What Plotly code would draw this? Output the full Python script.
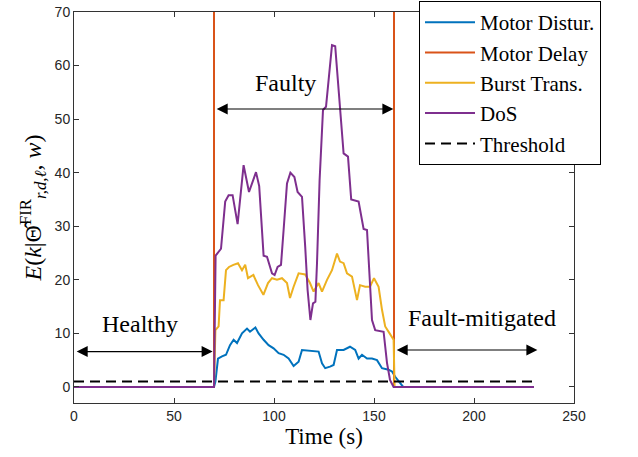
import plotly.graph_objects as go

# Detection statistic E(k | Theta_hat) for each attack scenario, sampled in time (s)
dist_t = [0, 70, 70.7, 72, 74, 76, 78, 79.8, 81.5, 84, 86.5, 88, 90.7, 92.3, 94.8, 97.3,
          99.8, 102.3, 104.8, 107.3, 109.8, 112.3, 114, 118, 122.3, 124, 125.6, 128, 129.8,
          131.5, 134.8, 138, 140.6, 142.3, 144, 146.5, 149, 151.5, 154, 157.3, 159, 160.6,
          162.3, 164.6, 230]
dist_v = [0, 0, 1, 5.3, 5.7, 6, 7.8, 8.8, 8.2, 10, 10.9, 10.3, 11.1, 10, 8.8, 7.8,
          7.2, 6.3, 6, 5.3, 3.9, 4.7, 6.9, 6.8, 6.6, 4.4, 3.5, 3.8, 4.1,
          6.9, 6.9, 7.5, 6.9, 5.3, 6, 5.3, 5.3, 5, 3.5, 3.2, 2.9, 1.9,
          1, 0, 0]

DELAY_LEVEL = 500  # statistic saturates far above the axis during the delay attack
delay_t = [0, 70, 70, 160, 160, 230]
delay_v = [0, 0, DELAY_LEVEL, DELAY_LEVEL, 0, 0]

burst_t = [0, 70, 70.7, 72.3, 73, 74.8, 76, 77.5, 79.7, 82, 84, 85.6, 87, 89.7, 92, 94.7,
           97, 99, 101.5, 104, 106.5, 108, 109.8, 112.3, 115.6, 118, 119.8, 122.3, 124,
           126.5, 129, 131.5, 133, 134.8, 136.5, 139, 141.5, 143, 145.6, 148, 150, 152.3,
           154, 155.6, 157.8, 159.8, 160.3, 230]
burst_v = [0, 0, 10.6, 11.3, 16.2, 16.2, 21.8, 22.4, 22.8, 23.1, 21.8, 22.8, 20.3, 20.9, 19, 17.2,
           19.4, 20.3, 20, 20.3, 19.4, 16.6, 18.7, 21.2, 21, 19.4, 17.8, 19.4, 17.8,
           20, 21.8, 24.9, 23.4, 23.1, 21.2, 20.6, 16.2, 19, 18.7, 18.7, 20.3, 18.7,
           14.4, 11.3, 10, 8.8, 0, 0]

dos_t = [0, 70, 70.8, 73.5, 75.6, 77.3, 79.3, 81.8, 84.8, 87.5, 91, 92.6, 94.8, 96.5, 99,
         100.3, 101.8, 103.5, 104.8, 106.5, 108.2, 110.2, 111.8, 114, 115.6, 116.8, 118.2,
         119.5, 120.7, 121.5, 122.8, 124.5, 126, 129, 130.6, 133, 134.8, 137, 138.6, 142.3,
         144.8, 146.5, 149, 150.6, 154.8, 156.5, 158, 159.8, 230]
dos_v = [0, 0, 24.5, 25.8, 34.6, 35.8, 35.8, 30.4, 41.4, 36.4, 40.1, 37.5, 24.5, 24.3, 21.2,
         20.9, 22.4, 22.8, 29.3, 38, 40, 39.2, 36.4, 35.5, 26.2, 18.1, 12.5,
         15.6, 15.9, 23.1, 38.6, 51.7, 52.3, 63.8, 63.6, 51.5, 43.6, 43, 35, 34.6,
         29.5, 29.3, 12.5, 10.6, 10.3, 4.5, 1.3, 0, 0]

thr_t = [0, 230]
thr_v = [1, 1]

x_ticks = [0, 50, 100, 150, 200, 250]
y_ticks = [0, 10, 20, 30, 40, 50, 60, 70]

SERIF = "Liberation Serif"
SANS = "Liberation Sans"

fig = go.Figure()
fig.add_trace(go.Scatter(x=dist_t, y=dist_v, mode="lines", name="Motor Distur.",
                         line=dict(color="#0072BD", width=2)))
fig.add_trace(go.Scatter(x=delay_t, y=delay_v, mode="lines", name="Motor Delay",
                         line=dict(color="#D95319", width=2)))
fig.add_trace(go.Scatter(x=burst_t, y=burst_v, mode="lines", name="Burst Trans.",
                         line=dict(color="#EDB120", width=2)))
fig.add_trace(go.Scatter(x=dos_t, y=dos_v, mode="lines", name="DoS",
                         line=dict(color="#7E2F8E", width=2)))
fig.add_trace(go.Scatter(x=thr_t, y=thr_v, mode="lines", name="Threshold",
                         line=dict(color="black", width=2, dash="10px,6px")))

# Phase markers: double-headed arrows with captions
phases = [
    dict(label="Healthy", x0=0.6, x1=69.3, y=6.6, tx=33, ty=11.7),
    dict(label="Faulty", x0=70.6, x1=159.7, y=51.9, tx=105.6, ty=56.7),
    dict(label="Fault-mitigated", x0=160.6, x1=231.7, y=6.9, tx=204, ty=12.9),
]
for p in phases:
    fig.add_annotation(x=p["x1"], y=p["y"], ax=p["x0"], ay=p["y"], xref="x", yref="y",
                       axref="x", ayref="y", text="", showarrow=True, arrowhead=2,
                       arrowside="end+start", arrowsize=2, arrowwidth=1.1,
                       arrowcolor="black", standoff=0, startstandoff=0)
    fig.add_annotation(x=p["tx"], y=p["ty"], xref="x", yref="y", text=p["label"],
                       showarrow=False, font=dict(family=SERIF, size=24, color="black"))

axis_common = dict(showline=True, linecolor="#333333", linewidth=1, mirror="ticks",
                   ticks="inside", ticklen=5, tickwidth=1, tickcolor="#333333",
                   showgrid=False, zeroline=False,
                   tickfont=dict(family=SANS, size=14, color="#262626"))

fig.update_layout(
    width=638, height=457,
    margin=dict(l=74, r=64, t=12, b=54, autoexpand=False),
    paper_bgcolor="white", plot_bgcolor="white",
    xaxis=dict(range=[0, 250], tickvals=x_ticks,
               title=dict(text="Time (s)", font=dict(family=SERIF, size=23, color="black"),
                          standoff=4),
               **axis_common),
    yaxis=dict(range=[-3, 70], tickvals=y_ticks,
               title=dict(text="<i>E</i>(<i>k</i>|Θ̂<sup>FIR</sup><sub><i>r,d,ℓ</i></sub>, <i>w</i>)",
                          font=dict(family=SERIF, size=24, color="black"), standoff=6),
               **axis_common),
    legend=dict(x=0.69, y=1.028, xanchor="left", yanchor="top",
                bgcolor="white", bordercolor="black", borderwidth=1,
                font=dict(family=SERIF, size=21, color="black"),
                itemwidth=50, tracegroupgap=0),
    showlegend=True,
)

fig.write_html("out.html")
